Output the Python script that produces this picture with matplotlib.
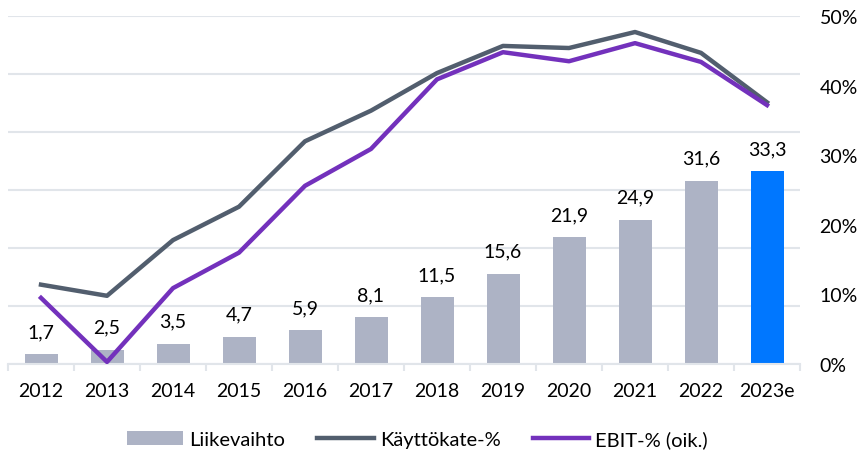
import matplotlib.pyplot as plt
from matplotlib.ticker import FixedLocator, PercentFormatter

plt.rcParams['font.family'] = ['Lato', 'DejaVu Sans']

# data
years = ['2012', '2013', '2014', '2015', '2016', '2017', '2018', '2019', '2020', '2021', '2022', '2023e']
liikevaihto = [1.7, 2.5, 3.5, 4.7, 5.9, 8.1, 11.5, 15.6, 21.9, 24.9, 31.6, 33.3]
kayttokate = [11.4, 9.8, 17.8, 22.6, 32.0, 36.4, 41.8, 45.7, 45.4, 47.7, 44.7, 37.6]
ebit = [9.5, 0.3, 10.9, 16.0, 25.6, 30.9, 40.9, 44.8, 43.5, 46.1, 43.4, 37.2]

bar_grey = '#adb3c5'
bar_blue = '#0077ff'
line_grey = '#525e6e'
line_purple = '#7331bc'
grid_col = '#e1e5ea'
fs = 14

fig = plt.figure(figsize=(8.64, 4.56), dpi=100)
ax = fig.add_axes([8 / 864, 1 - 365 / 456, 792 / 864, 348 / 456])
ax2 = ax.twinx()

x = list(range(len(years)))
colors = [bar_grey] * (len(years) - 1) + [bar_blue]
bars = ax.bar(x, liikevaihto, width=0.5, color=colors, zorder=2, label='Liikevaihto')
for xi, v in zip(x, liikevaihto):
    ax.annotate(f'{v:.1f}'.replace('.', ','), (xi, v), xytext=(0, 10),
                textcoords='offset points', ha='center', va='bottom', fontsize=fs)

ax.set_ylim(0, 60)
ax.set_xlim(-0.5, len(years) - 0.5)
ax.set_yticks(range(0, 61, 10))
ax.yaxis.grid(True, color=grid_col, linewidth=1.5, zorder=0)
ax.set_axisbelow(True)
ax.tick_params(axis='y', left=False, labelleft=False)
ax.set_xticks(x)
ax.set_xticklabels(years, fontsize=fs)
ax.tick_params(axis='x', which='major', length=0, pad=13)
ax.xaxis.set_minor_locator(FixedLocator([i - 0.5 for i in range(len(years) + 1)]))
ax.tick_params(axis='x', which='minor', length=5, width=1.5, color=grid_col)
for s in ['top', 'left', 'right']:
    ax.spines[s].set_visible(False)
ax.spines['bottom'].set_color(grid_col)
ax.spines['bottom'].set_linewidth(1.5)

l1, = ax2.plot(x, kayttokate, color=line_grey, linewidth=3.2, zorder=3, label='Käyttökate-%')
l2, = ax2.plot(x, ebit, color=line_purple, linewidth=3.2, zorder=4, label='EBIT-% (oik.)')
ax2.set_ylim(0, 50)
ax2.set_yticks(range(0, 51, 10))
ax2.yaxis.set_major_formatter(PercentFormatter(decimals=0))
ax2.tick_params(axis='y', length=0, pad=14, labelsize=fs)
for s in ['top', 'left', 'right', 'bottom']:
    ax2.spines[s].set_visible(False)

fig.legend(handles=[bars, l1, l2], loc='center', bbox_to_anchor=(0.483, 1 - 440 / 456),
           ncol=3, frameon=False, fontsize=14.5, handlelength=2.8, handletextpad=0.3,
           columnspacing=1.6, borderaxespad=0)

fig.savefig('out.png', dpi=100)
